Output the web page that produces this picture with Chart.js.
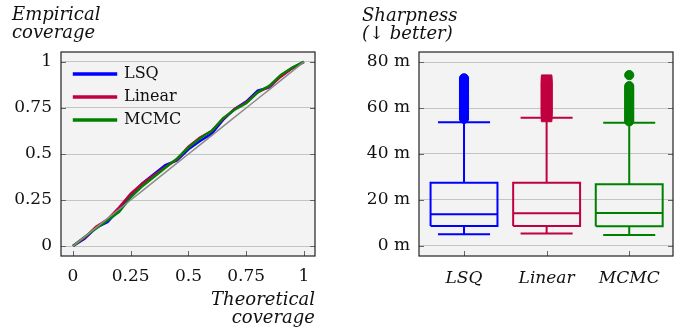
<!DOCTYPE html>
<html>
<head>
<meta charset="utf-8">
<script src="https://cdn.jsdelivr.net/npm/chart.js@4.4.1/dist/chart.umd.min.js"></script>
<style>
  body { margin: 0; background: #fff; }
  #wrap { position: relative; width: 689px; height: 335px; overflow: hidden; }
  canvas { position: absolute; top: 0; }
  .lbl { position: absolute; font: italic 18px 'DejaVu Serif', serif; line-height: 18px; color: #111; white-space: nowrap; }
</style>
</head>
<body>
<div id="wrap">
  <canvas id="coverageChart" width="330" height="335" style="left:0"></canvas>
  <canvas id="sharpChart" width="349" height="335" style="left:340px"></canvas>
  <div class="lbl" style="left:12px; top:5px">Empirical<br>coverage</div>
  <div class="lbl" style="left:190px; top:290px; width:125px; text-align:right">Theoretical<br>coverage</div>
  <div class="lbl" style="left:362px; top:6px">Sharpness<br>(↓ better)</div>
</div>
<script>

// calibration curves
const levels = [0, 0.05, 0.1, 0.15, 0.2, 0.25, 0.3, 0.35, 0.4, 0.45, 0.5, 0.55, 0.6, 0.65, 0.7, 0.75, 0.8, 0.85, 0.9, 0.95, 1];
const lsq_cov = [0, 0.04, 0.1, 0.13, 0.2, 0.27, 0.34, 0.39, 0.44, 0.465, 0.525, 0.57, 0.61, 0.685, 0.745, 0.785, 0.845, 0.862, 0.925, 0.968, 1];
const linear_cov = [0, 0.045, 0.105, 0.145, 0.21, 0.285, 0.34, 0.385, 0.43, 0.47, 0.54, 0.59, 0.625, 0.69, 0.745, 0.78, 0.835, 0.865, 0.92, 0.965, 1];
const mcmc_cov = [0, 0.05, 0.095, 0.14, 0.185, 0.265, 0.325, 0.375, 0.425, 0.475, 0.535, 0.585, 0.625, 0.695, 0.74, 0.775, 0.835, 0.87, 0.93, 0.97, 1];
const cov_ticks = [0, 0.25, 0.5, 0.75, 1];
const cov_tick_labels = ['0', '0.25', '0.5', '0.75', '1'];

// sharpness box plots
const methods = ['LSQ', 'Linear', 'MCMC'];
const whisker_low = [5.1, 5.4, 4.8];
const q1 = [8.7, 8.7, 8.6];
const median = [13.8, 14.2, 14.3];
const q3 = [27.5, 27.5, 26.8];
const whisker_high = [53.8, 55.8, 53.6];
const outliers_lsq = [55.3, 56.1, 56.9, 57.6, 58.5, 59.2, 60.1, 60.8, 61.7, 62.4, 63.3, 64, 64.9, 65.6, 66.5, 67.2, 68.1, 68.8, 69.7, 70.4, 71.3, 72.1, 72.9];
const outliers_linear = [56.3, 57.1, 58, 58.8, 59.7, 60.5, 61.4, 62.2, 63.1, 63.9, 64.8, 65.6, 66.5, 67.3, 68.2, 69, 69.9, 70.7, 71.5, 72.1];
const outliers_mcmc = [54.2, 55, 55.9, 56.7, 57.6, 58.4, 59.3, 60.1, 61, 61.8, 62.7, 63.5, 64.4, 65.2, 66.1, 66.9, 67.8, 68.6, 69.5, 74.3];
const sharp_ticks = [0, 20, 40, 60, 80];
const sharp_tick_labels = ['0 m', '20 m', '40 m', '60 m', '80 m'];

const colors = ['#0000ff', '#c0003f', '#008000'];
const SERIF = "'DejaVu Serif', serif";

// light gray plot background + dark frame + inward tick marks
const framePlugin = {
  id: 'frame',
  afterLayout(chart) {
    // legend placed in chart area gets top reset to 0, move it inside the frame
    const lg = chart.legend;
    if (lg && chart.options.plugins.legend.display !== false) {
      const dy = chart.chartArea.top + 7 - lg.top, dx = 6;
      lg.top += dy; lg.bottom += dy; lg.left += dx; lg.right += dx;
    }
  },
  beforeDraw(chart) {
    const a = chart.chartArea, ctx = chart.ctx;
    ctx.save();
    ctx.fillStyle = '#f3f3f3';
    ctx.fillRect(a.left, a.top, a.right - a.left, a.bottom - a.top);
    ctx.restore();
  },
  beforeDatasetsDraw(chart) {
    const a = chart.chartArea, ctx = chart.ctx;
    ctx.save();
    ctx.strokeStyle = '#666';
    ctx.lineWidth = 1;
    ctx.beginPath();
    for (const t of chart.scales.y.ticks) {
      const py = Math.round(chart.scales.y.getPixelForValue(t.value)) + 0.5;
      ctx.moveTo(a.left, py); ctx.lineTo(a.left + 5, py);
      ctx.moveTo(a.right, py); ctx.lineTo(a.right - 5, py);
    }
    for (const t of chart.scales.x.ticks) {
      const px = Math.round(chart.scales.x.getPixelForValue(t.value)) + 0.5;
      ctx.moveTo(px, a.bottom); ctx.lineTo(px, a.bottom - 5);
    }
    ctx.stroke();
    ctx.restore();
  },
  afterDraw(chart) {
    const a = chart.chartArea, ctx = chart.ctx;
    ctx.save();
    ctx.strokeStyle = '#222';
    ctx.lineWidth = 1.2;
    ctx.strokeRect(a.left, a.top, a.right - a.left, a.bottom - a.top);
    ctx.restore();
  }
};

function toPoints(ys) {
  return levels.map((x, i) => ({ x: x, y: ys[i] }));
}

function fixedTicks(values) {
  return s => { s.ticks = values.map(v => ({ value: v })); };
}

const coverage_config = {
  type: 'scatter',
  data: {
    datasets: [
      { label: 'ideal', data: toPoints(levels), borderColor: '#8c8c8c', borderWidth: 1.5, order: 0 },
      { label: 'LSQ', data: toPoints(lsq_cov), borderColor: colors[0], backgroundColor: colors[0], borderWidth: 2.4, order: 3 },
      { label: 'Linear', data: toPoints(linear_cov), borderColor: colors[1], backgroundColor: colors[1], borderWidth: 2.4, order: 2 },
      { label: 'MCMC', data: toPoints(mcmc_cov), borderColor: colors[2], backgroundColor: colors[2], borderWidth: 2.4, order: 1 }
    ].map(d => Object.assign(d, { showLine: true, pointRadius: 0, tension: 0 }))
  },
  options: {
    responsive: false,
    animation: false,
    layout: { padding: { left: 0, top: 52, right: 15, bottom: 0 } },
    scales: {
      x: {
        type: 'linear', min: -0.052, max: 1.048,
        afterBuildTicks: fixedTicks(cov_ticks),
        afterFit: s => { s.height = 79; },
        grid: { display: false, drawTicks: false },
        border: { display: false },
        ticks: { padding: 10, color: '#111', font: { family: SERIF, size: 17 }, maxRotation: 0,
                 callback: v => cov_tick_labels[cov_ticks.indexOf(v)] }
      },
      y: {
        min: -0.054, max: 1.054,
        afterBuildTicks: fixedTicks(cov_ticks),
        afterFit: s => { s.width = 61; },
        grid: { color: '#c4c4c4', drawTicks: false },
        border: { display: false },
        ticks: { padding: 9, color: '#111', font: { family: SERIF, size: 17 },
                 callback: v => cov_tick_labels[cov_ticks.indexOf(v)] }
      }
    },
    plugins: {
      tooltip: { enabled: false },
      legend: {
        position: 'chartArea', align: 'start',
        labels: {
          filter: item => item.text !== 'ideal',
          sort: (a, b) => a.datasetIndex - b.datasetIndex,
          boxWidth: 42, boxHeight: 1, padding: 7, color: '#111',
          font: { family: SERIF, size: 16 }
        }
      }
    }
  },
  plugins: [framePlugin]
};

new Chart(document.getElementById('coverageChart'), coverage_config);

// box outline, median, whiskers and caps for one method, gaps as null
const BOX_HALF = 0.405, CAP_HALF = 0.315;
function boxLines(i) {
  const x = i + 1, gap = { x: x, y: null };
  return [
    { x: x - BOX_HALF, y: q1[i] }, { x: x + BOX_HALF, y: q1[i] }, { x: x + BOX_HALF, y: q3[i] },
    { x: x - BOX_HALF, y: q3[i] }, { x: x - BOX_HALF, y: q1[i] }, gap,
    { x: x - BOX_HALF, y: median[i] }, { x: x + BOX_HALF, y: median[i] }, gap,
    { x: x, y: q1[i] }, { x: x, y: whisker_low[i] }, gap,
    { x: x - CAP_HALF, y: whisker_low[i] }, { x: x + CAP_HALF, y: whisker_low[i] }, gap,
    { x: x, y: q3[i] }, { x: x, y: whisker_high[i] }, gap,
    { x: x - CAP_HALF, y: whisker_high[i] }, { x: x + CAP_HALF, y: whisker_high[i] }
  ];
}

const outlier_sets = [outliers_lsq, outliers_linear, outliers_mcmc];
const point_styles = ['circle', 'rect', 'circle'];
const point_sizes = [4.6, 7.4, 4.6];

const sharp_datasets = [];
methods.forEach((m, i) => {
  sharp_datasets.push({
    label: m + ' box', data: boxLines(i), showLine: true, spanGaps: false,
    borderColor: colors[i], borderWidth: 2, pointRadius: 0
  });
  sharp_datasets.push({
    label: m + ' outliers', data: outlier_sets[i].map(v => ({ x: i + 1, y: v })),
    pointStyle: point_styles[i], pointRadius: point_sizes[i],
    backgroundColor: colors[i], borderColor: colors[i], borderWidth: 1
  });
});

const sharp_config = {
  type: 'scatter',
  data: { datasets: sharp_datasets },
  options: {
    responsive: false,
    animation: false,
    layout: { padding: { left: 0, top: 52, right: 16, bottom: 0 } },
    scales: {
      x: {
        type: 'linear', min: 0.455, max: 3.53,
        afterBuildTicks: fixedTicks([1, 2, 3]),
        afterFit: s => { s.height = 79; },
        grid: { display: false, drawTicks: false },
        border: { display: false },
        ticks: { padding: 12, color: '#111', font: { family: SERIF, size: 17, style: 'italic' }, maxRotation: 0,
                 callback: v => methods[v - 1] }
      },
      y: {
        min: -4.35, max: 84.35,
        afterBuildTicks: fixedTicks(sharp_ticks),
        afterFit: s => { s.width = 79; },
        grid: { color: '#c4c4c4', drawTicks: false },
        border: { display: false },
        ticks: { padding: 9, color: '#111', font: { family: SERIF, size: 17 },
                 callback: v => sharp_tick_labels[sharp_ticks.indexOf(v)] }
      }
    },
    plugins: {
      tooltip: { enabled: false },
      legend: { display: false }
    }
  },
  plugins: [framePlugin]
};

new Chart(document.getElementById('sharpChart'), sharp_config);

</script>
</body>
</html>
